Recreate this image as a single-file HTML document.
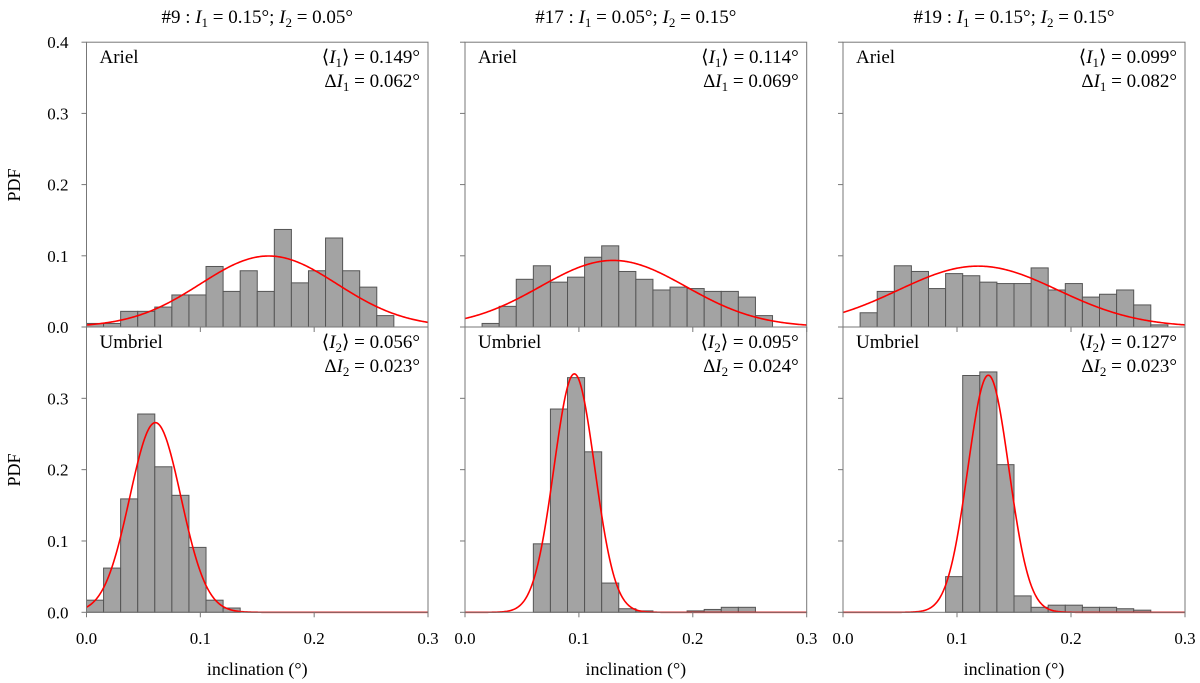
<!DOCTYPE html>
<html><head><meta charset="utf-8"><style>
body{margin:0;background:#fff;}
svg{display:block;font-family:"Liberation Serif",serif;}
</style></head><body>
<svg id="chart" width="1200" height="683" viewBox="0 0 1200 683"></svg>
<script>
const binWidth = 0.015;
const xTicks = [0.0, 0.1, 0.2, 0.3];
const xTickLabels = ["0.0", "0.1", "0.2", "0.3"];
const yTicksTop = [0.0, 0.1, 0.2, 0.3, 0.4];
const yTickLabelsTop = ["0.0", "0.1", "0.2", "0.3", "0.4"];
const yTicksBottom = [0.0, 0.1, 0.2, 0.3];
const yTickLabelsBottom = ["0.0", "0.1", "0.2", "0.3"];
const titles = ["#9", "#17", "#19"];
const titleI1 = ["0.15", "0.05", "0.15"];
const titleI2 = ["0.05", "0.15", "0.15"];

const arielStart = [0.0, 0.015, 0.015];
const ariel9 = [0.005,0.005,0.022,0.022,0.028,0.045,0.045,0.085,0.05,0.079,0.05,0.137,0.062,0.079,0.125,0.079,0.056,0.016];
const ariel17 = [0.005,0.029,0.067,0.086,0.063,0.070,0.098,0.114,0.078,0.067,0.052,0.056,0.054,0.050,0.050,0.042,0.016];
const ariel19 = [0.020,0.050,0.086,0.078,0.054,0.075,0.072,0.063,0.061,0.061,0.083,0.052,0.061,0.042,0.046,0.052,0.031,0.003];
const arielMu = [0.160, 0.130, 0.1185];
const arielSigma = [0.060, 0.064, 0.070];
const arielMean = ["0.149", "0.114", "0.099"];
const arielDelta = ["0.062", "0.069", "0.082"];

const umbrielStart = [0.0, 0.06, 0.09];
const umbriel9 = [0.017,0.062,0.159,0.278,0.204,0.164,0.091,0.017,0.006];
const umbriel17 = [0.096,0.285,0.329,0.225,0.041,0.005,0.002,0,0,0.002,0.004,0.007,0.007];
const umbriel19 = [0.050,0.332,0.337,0.207,0.023,0.007,0.010,0.010,0.007,0.007,0.005,0.003];
const umbrielMu = [0.0605, 0.096, 0.1275];
const umbrielSigma = [0.0225, 0.0179, 0.018];
const umbrielMean = ["0.056", "0.095", "0.127"];
const umbrielDelta = ["0.023", "0.024", "0.023"];

const arielSets = [ariel9, ariel17, ariel19];
const umbrielSets = [umbriel9, umbriel17, umbriel19];

const NS = "http://www.w3.org/2000/svg";
const svg = document.getElementById("chart");
function mk(tag, attrs, parent) {
  const e = document.createElementNS(NS, tag);
  for (const k in attrs) e.setAttribute(k, attrs[k]);
  (parent || svg).appendChild(e);
  return e;
}
const cols = [[86.5, 428], [465, 806.7], [843, 1185]];
const rows = [{top: 42.2, base: 327, ymax: 0.4}, {top: 327, base: 612.3, ymax: 0.4}];

function gauss(x, mu, s) { return binWidth / (s * Math.sqrt(2 * Math.PI)) * Math.exp(-0.5 * ((x - mu) / s) ** 2); }

function panel(ci, ri, values, start, mu, sigma, name, meanTxt, deltaTxt) {
  const [x0, x1] = cols[ci];
  const r = rows[ri];
  const sx = v => x0 + (v / 0.3) * (x1 - x0);
  const sy = v => r.base - (v / r.ymax) * (r.base - r.top);
  const g = mk("g", {});
  
  
  values.forEach((v, i) => {
    if (v <= 0) return;
    const a = start + i * binWidth;
    const rect = mk("rect", {x: sx(a), y: sy(v), width: sx(a + binWidth) - sx(a), height: r.base - sy(v), fill: "#a3a3a3", stroke: "#555", "stroke-width": 1}, g);
    
    
  });
  let d = "";
  for (let k = 0; k <= 300; k++) {
    const xv = 0.3 * k / 300;
    d += (k ? "L" : "M") + sx(xv).toFixed(2) + "," + sy(gauss(xv, mu, sigma)).toFixed(2);
  }
  const p = mk("path", {d: d, fill: "none", stroke: "#f00", "stroke-width": 1.6}, g);
  
  
  const fr = mk("rect", {x: x0, y: r.top, width: x1 - x0, height: r.base - r.top, fill: "none", stroke: "#777", "stroke-width": 1}, g);
  
  
  const yt = ri === 0 ? yTicksTop : yTicksBottom;
  const ytl = ri === 0 ? yTickLabelsTop : yTickLabelsBottom;
  yt.forEach((t, i) => {
    mk("line", {x1: x0 - 5, x2: x0, y1: sy(t), y2: sy(t), stroke: "#777"}, g);
    if (ci === 0) {
      const tx = mk("text", {x: x0 - 18, y: sy(t) + 6, "text-anchor": "end", "font-size": 17}, g);
      tx.textContent = ytl[i];
      
      
    }
  });
  xTicks.forEach((t, i) => {
    mk("line", {x1: sx(t), x2: sx(t), y1: r.base, y2: r.base + 5, stroke: "#777"}, g);
    if (ri === 1) {
      const tx = mk("text", {x: sx(t), y: 644, "text-anchor": "middle", "font-size": 17}, g);
      tx.textContent = xTickLabels[i];
      
      
    }
  });
  const nm = mk("text", {x: x0 + 13, y: r.top + 21, "font-size": 19}, g);
  nm.textContent = name;
  
  
  const sub = ri === 0 ? "1" : "2";
  const t1 = mk("text", {x: x1 - 8, y: r.top + 21, "text-anchor": "end", "font-size": 19}, g);
  t1.innerHTML = '⟨<tspan font-style="italic">I</tspan><tspan font-size="13" dy="4">' + sub + '</tspan><tspan dy="-4">⟩ = ' + meanTxt + '°</tspan>';
  
  
  const t2 = mk("text", {x: x1 - 8, y: r.top + 45, "text-anchor": "end", "font-size": 19}, g);
  t2.innerHTML = 'Δ<tspan font-style="italic">I</tspan><tspan font-size="13" dy="4">' + sub + '</tspan><tspan dy="-4"> = ' + deltaTxt + '°</tspan>';
  
  
}

for (let c = 0; c < 3; c++) {
  panel(c, 0, arielSets[c], arielStart[c], arielMu[c], arielSigma[c], "Ariel", arielMean[c], arielDelta[c]);
  panel(c, 1, umbrielSets[c], umbrielStart[c], umbrielMu[c], umbrielSigma[c], "Umbriel", umbrielMean[c], umbrielDelta[c]);
  const cx = (cols[c][0] + cols[c][1]) / 2;
  const tt = mk("text", {x: cx, y: 23, "text-anchor": "middle", "font-size": 19});
  tt.innerHTML = titles[c] + ' : <tspan font-style="italic">I</tspan><tspan font-size="13" dy="4">1</tspan><tspan dy="-4"> = ' + titleI1[c] + '°; </tspan><tspan font-style="italic">I</tspan><tspan font-size="13" dy="4">2</tspan><tspan dy="-4"> = ' + titleI2[c] + '°</tspan>';
  
  
  const xl = mk("text", {x: cx, y: 675, "text-anchor": "middle", "font-size": 18});
  xl.textContent = "inclination (°)";
  
  
}
[185, 470].forEach(y => {
  const t = mk("text", {x: 0, y: 0, "text-anchor": "middle", "font-size": 18, transform: "translate(20," + y + ") rotate(-90)"});
  t.textContent = "PDF";
  
  
});
</script>
</body></html>
